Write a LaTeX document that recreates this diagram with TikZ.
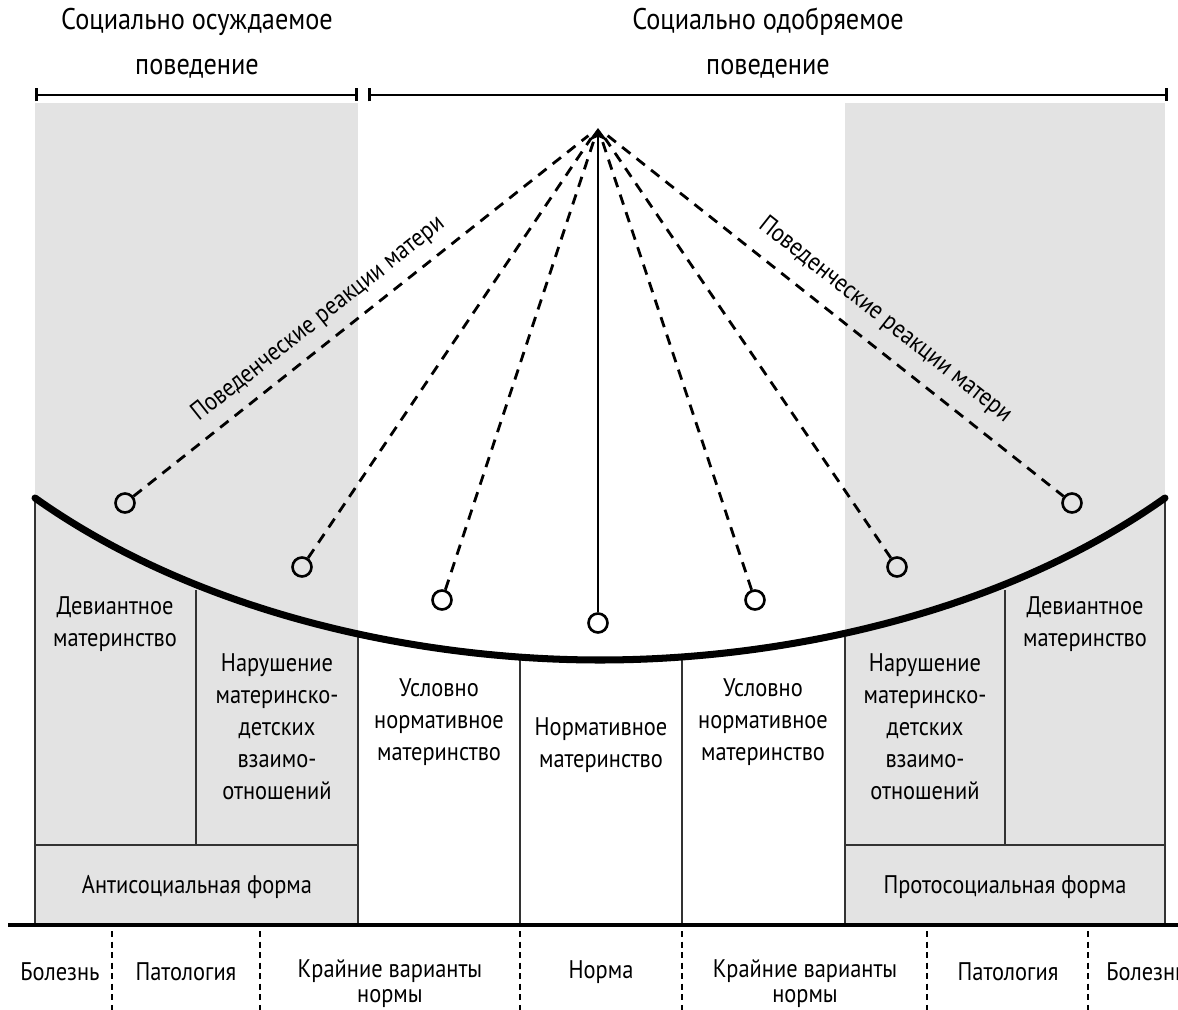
\documentclass[tikz,border=0pt]{standalone}
\usepackage{fontspec}
\setmainfont[FakeStretch=0.88]{PT Sans}
\usetikzlibrary{arrows.meta, positioning}

\begin{document}
\begin{tikzpicture} [x = 0.02cm, y = -0.02cm,
    zone/.style = {fill=black!11},
    bracket/.style = {{Bar[width=0.26cm]}-{Bar[width=0.26cm]}, line width=1.6pt},
    title/.style = {align=center, font=\fontsize{17}{25.6}\selectfont},
    cell/.style = {align=center, font=\fontsize{14.5}{18.2}\selectfont},
    lower/.style = {align=center, font=\fontsize{14.5}{14.2}\selectfont},
    grid/.style = {line width=0.8pt, black!80},
    reac/.style = {circle, draw, line width=1.5pt, minimum size=0.38cm, inner sep=0pt},
    ray/.style = {dashed, dash pattern=on 6pt off 4.5pt, line width=1.6pt},
    lab/.style = {sloped, above=3pt, font=\fontsize{14.5}{17}\selectfont},
    sep/.style = {line width=0.6pt, dash pattern=on 3.4pt off 2.6pt}]

    \useasboundingbox (0,0) rectangle (1178,1010);

    % shaded columns
    \fill [zone] (35,103) rectangle (358,925);
    \fill [zone] (845,103) rectangle (1165,925);

    % headings
    \node (t1) [title] at (197,43) {Социально осуждаемое\\поведение};
    \node (t2) [title] at (768,43) {Социально одобряемое\\поведение};
    \draw [bracket] (35,95) -- (358,95);
    \draw [bracket] (368,95) -- (1168,95);

    % cells
    \draw [grid] (35,498) -- (35,925);
    \draw [grid] (196,590) -- (196,845);
    \draw [grid] (358,637) -- (358,925);
    \draw [grid] (520,657) -- (520,925);
    \draw [grid] (682,657) -- (682,925);
    \draw [grid] (845,637) -- (845,925);
    \draw [grid] (1005,590) -- (1005,845);
    \draw [grid] (1165,498) -- (1165,925);
    \draw [grid] (35,845) -- (358,845);
    \draw [grid] (845,845) -- (1165,845);

    \node (dev1) [cell] at (115,624) {Девиантное\\материнство};
    \node (nar1) [cell] at (277,727) {Нарушение\\материнско-\\детских\\взаимо-\\отношений};
    \node (usl1) [cell] at (439,722) {Условно\\нормативное\\материнство};
    \node (norm) [cell] at (601,745) {Нормативное\\материнство};
    \node (usl2) [cell] at (763,722) {Условно\\нормативное\\материнство};
    \node (nar2) [cell] at (925,727) {Нарушение\\материнско-\\детских\\взаимо-\\отношений};
    \node (dev2) [cell] at (1085,624) {Девиантное\\материнство};
    \node (anti) [cell] at (197,887) {Антисоциальная форма};
    \node (prot) [cell] at (1005,887) {Протосоциальная форма};

    % curve and base line
    \draw [line width=4pt, line cap=round]
        (35,498) .. controls (200,615) and (420,660) .. (600,660)
                 .. controls (780,660) and (1000,615) .. (1165,498);
    \draw [line width=2.8pt] (8,925) -- (1178,925);

    % reactions
    \node (r1) [reac] at (125,503) {};
    \node (r2) [reac] at (302,567) {};
    \node (r3) [reac] at (442,600) {};
    \node (r4) [reac] at (598,623) {};
    \node (r5) [reac] at (755,600) {};
    \node (r6) [reac] at (897,567) {};
    \node (r7) [reac] at (1072,503) {};
    \coordinate (top) at (598,128);

    \draw [ray, shorten >=7pt] (r1) -- node [lab, pos=.43] {Поведенческие реакции матери} (top);
    \draw [ray, shorten >=7pt] (r2) -- (top);
    \draw [ray, shorten >=6pt] (r3) -- (top);
    \draw [-{Stealth[length=0.26cm, width=0.38cm]}, line width=1.5pt] (r4) -- (top);
    \draw [ray, shorten >=6pt] (r5) -- (top);
    \draw [ray, shorten >=7pt] (r6) -- (top);
    \draw [ray, shorten <=7pt] (top) -- node [lab, above=5pt, pos=.58] {Поведенческие реакции матери} (r7);

    % scale below
    \foreach \x in {112, 260, 520, 682, 927, 1088}
        \draw [sep] (\x,931) -- (\x,1010);

    \node (b1) [lower] at (60,972) {Болезнь};
    \node (b2) [lower] at (186,972) {Патология};
    \node (b3) [lower] at (390,984) {Крайние варианты\\нормы};
    \node (b4) [lower] at (601,972) {Норма};
    \node (b5) [lower] at (805,984) {Крайние варианты\\нормы};
    \node (b6) [lower] at (1008,972) {Патология};
    \node (b7) [lower] at (1146,972) {Болезнь};

\end{tikzpicture}
\end{document}
